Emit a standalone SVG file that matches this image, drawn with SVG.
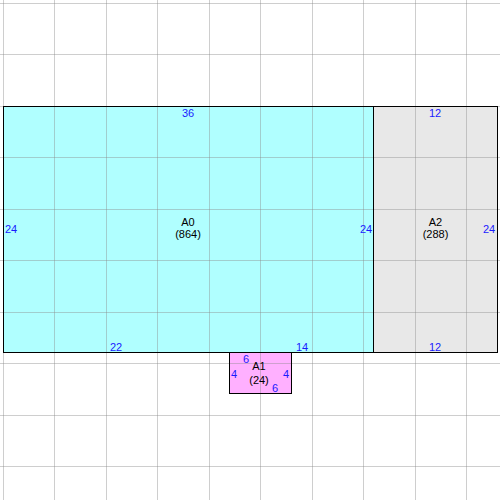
<svg xmlns="http://www.w3.org/2000/svg" width="500" height="500" viewBox="0 0 500 500">
<style>
.grid line{stroke:#8a8a8a;stroke-opacity:0.42;stroke-width:1}
.box{stroke:#000;stroke-width:1}
.lbl{font-family:"Liberation Sans",Arial,sans-serif;font-size:11px;fill:#000;text-anchor:middle}
.dim{font-family:"Liberation Sans",Arial,sans-serif;font-size:11px;fill:#1a1aff;text-anchor:middle}
</style>
<rect width="500" height="500" fill="#fff"/>
<g id="A0"><rect x="3.5" y="106.5" width="370" height="246" fill="#b0ffff"/></g>
<g id="A2"><rect x="373.5" y="106.5" width="124" height="246" fill="#e8e8e8"/></g>
<g id="A1"><rect x="229.5" y="352.5" width="62" height="41" fill="#ffb0ff"/></g>
<g class="grid">
<line x1="3.5" y1="0" x2="3.5" y2="500"/><line x1="54.5" y1="0" x2="54.5" y2="500"/><line x1="106.5" y1="0" x2="106.5" y2="500"/><line x1="157.5" y1="0" x2="157.5" y2="500"/><line x1="209.5" y1="0" x2="209.5" y2="500"/><line x1="260.5" y1="0" x2="260.5" y2="500"/><line x1="312.5" y1="0" x2="312.5" y2="500"/><line x1="363.5" y1="0" x2="363.5" y2="500"/><line x1="415.5" y1="0" x2="415.5" y2="500"/><line x1="466.5" y1="0" x2="466.5" y2="500"/>
<line y1="3.5" x1="0" y2="3.5" x2="500"/><line y1="54.5" x1="0" y2="54.5" x2="500"/><line y1="106.5" x1="0" y2="106.5" x2="500"/><line y1="157.5" x1="0" y2="157.5" x2="500"/><line y1="209.5" x1="0" y2="209.5" x2="500"/><line y1="260.5" x1="0" y2="260.5" x2="500"/><line y1="312.5" x1="0" y2="312.5" x2="500"/><line y1="363.5" x1="0" y2="363.5" x2="500"/><line y1="415.5" x1="0" y2="415.5" x2="500"/><line y1="466.5" x1="0" y2="466.5" x2="500"/>
</g>
<g fill="none" class="box">
<rect x="3.5" y="106.5" width="370" height="246"/>
<rect x="373.5" y="106.5" width="124" height="246"/>
<rect x="229.5" y="352.5" width="62" height="41"/>
</g>
<g id="labels">
<text class="lbl" x="188" y="226">A0</text>
<text class="lbl" x="188" y="238">(864)</text>
<text class="lbl" x="435.5" y="226">A2</text>
<text class="lbl" x="435.5" y="238">(288)</text>
<text class="lbl" x="259" y="370">A1</text>
<text class="lbl" x="259" y="384">(24)</text>
</g>
<g id="dims">
<text class="dim" x="188" y="117">36</text>
<text class="dim" x="435" y="117">12</text>
<text class="dim" x="11" y="233">24</text>
<text class="dim" x="366" y="233">24</text>
<text class="dim" x="489" y="233">24</text>
<text class="dim" x="116" y="351">22</text>
<text class="dim" x="302" y="351">14</text>
<text class="dim" x="435" y="351">12</text>
<text class="dim" x="246" y="363">6</text>
<text class="dim" x="234" y="378">4</text>
<text class="dim" x="286" y="378">4</text>
<text class="dim" x="275" y="392">6</text>
</g>
</svg>
